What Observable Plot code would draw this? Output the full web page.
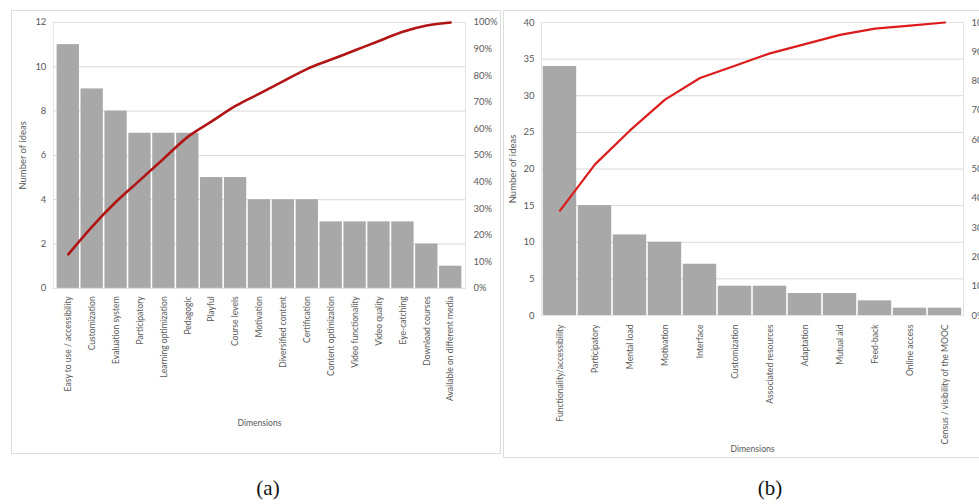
<!DOCTYPE html>
<html>
<head>
<meta charset="utf-8">
<script src="https://cdn.jsdelivr.net/npm/d3@7"></script>
<script src="https://cdn.jsdelivr.net/npm/@observablehq/plot@0.6"></script>
<style>
  html, body { margin: 0; padding: 0; background: #fff; }
  body { width: 979px; height: 504px; position: relative; overflow: hidden; font-family: Lato, "Open Sans", sans-serif; }
  .panel { position: absolute; border: 1px solid #dcdcdc; box-sizing: border-box; background: #fff; }
  .panel svg { position: absolute; left: 0; top: 0; }
  .cap { position: absolute; font-family: "Liberation Serif", "DejaVu Serif", serif; font-size: 21px; color: #111; transform: translateX(-50%); }
</style>
</head>
<body>
<div id="pa" class="panel" style="left:11px; top:10px; width:490px; height:444px;"></div>
<div id="pb" class="panel" style="left:503px; top:10px; width:500px; height:448px;"></div>
<div class="cap" style="left:268px; top:476px;">(a)</div>
<div class="cap" style="left:770px; top:476px;">(b)</div>
<script>
// ---- Data (a)
const catsA = ["Easy to use / accessibility", "Customization", "Evaluation system", "Participatory",
  "Learning optimization", "Pedagogic", "Playful", "Course levels", "Motivation", "Diversified content",
  "Certification", "Content optimization", "Video functionality", "Video quality", "Eye-catching",
  "Download courses", "Available on different media"];
const valsA = [11, 9, 8, 7, 7, 7, 5, 5, 4, 4, 4, 3, 3, 3, 3, 2, 1];
const yTicksA = [0, 2, 4, 6, 8, 10, 12];

// ---- Data (b)
const catsB = ["Functionality/accessibility", "Participatory", "Mental load", "Motivation", "Interface",
  "Customization", "Associated resources", "Adaptation", "Mutual aid", "Feed-back", "Online access",
  "Census / visibility of the MOOC"];
const valsB = [34, 15, 11, 10, 7, 4, 4, 3, 3, 2, 1, 1];
const yTicksB = [0, 5, 10, 15, 20, 25, 30, 35, 40];

const pctTicks = [0, 10, 20, 30, 40, 50, 60, 70, 80, 90, 100];

function pareto(cats, vals, yTicks, opt) {
  const ymax = yTicks[yTicks.length - 1];
  const total = d3.sum(vals);
  let acc = 0;
  const rows = cats.map((c, i) => {
    acc += vals[i];
    return {cat: c, n: vals[i], cum: acc / total * 100};
  });
  const tickColor = "#595959";
  return Plot.plot({
    width: opt.width, height: opt.height,
    marginLeft: opt.ml, marginRight: opt.mr, marginTop: opt.mt, marginBottom: opt.mb,
    style: {fontFamily: "Lato, 'Open Sans', sans-serif", fontSize: "9px", color: tickColor, background: "transparent"},
    x: {domain: cats, padding: 0},
    y: {domain: [0, ymax]},
    marks: [
      Plot.gridY(yTicks, {stroke: "#d9d9d9", strokeOpacity: 1}),
      Plot.frame({stroke: "#e3e3e3"}),
      Plot.barY(rows, {x: "cat", y: "n", fill: "#a9a8a9", insetLeft: 0.8, insetRight: 0.8}),
      Plot.line(rows, {x: "cat", y: d => d.cum / 100 * ymax, stroke: opt.lineColor, strokeWidth: opt.lw, curve: opt.curve}),
      Plot.axisY(yTicks, {anchor: "left", tickSize: 0, tickPadding: 7, fontSize: 9.5,
        label: "Number of ideas", labelAnchor: "center", labelArrow: "none", labelOffset: opt.ylo}),
      Plot.axisY(pctTicks.map(p => p / 100 * ymax), {anchor: "right", tickSize: 0, tickPadding: 8, fontSize: 9.5,
        tickFormat: d => Math.round(d / ymax * 100) + "%", label: null}),
      Plot.axisX({anchor: "bottom", tickSize: 0, tickPadding: opt.xtp, tickRotate: -90, fontSize: 8.6,
        label: "Dimensions", labelAnchor: "center", labelArrow: "none", labelOffset: opt.xlo})
    ]
  });
}

document.getElementById("pa").appendChild(pareto(catsA, valsA, yTicksA, {
  width: 490, height: 444, ml: 41, mr: 35, mt: 11, mb: 166, lineColor: "#b01414", lw: 2.6, ylo: 34, xtp: 8, xlo: 138, curve: "monotone-x"
}));
document.getElementById("pb").appendChild(pareto(catsB, valsB, yTicksB, {
  width: 490, height: 448, ml: 37, mr: 31, mt: 11, mb: 144, lineColor: "#dc1c1c", lw: 2.2, ylo: 32, xtp: 9, xlo: 136, curve: "linear"
}));
</script>
</body>
</html>
